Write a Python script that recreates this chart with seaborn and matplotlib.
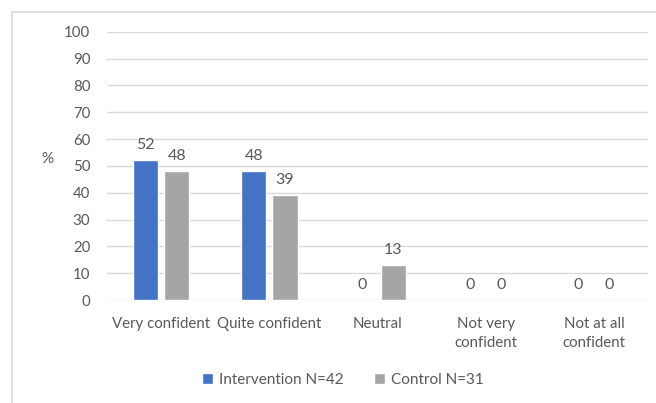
import pandas as pd
import matplotlib.pyplot as plt
import seaborn as sns
from matplotlib.patches import Rectangle

categories = ['Very confident', 'Quite confident', 'Neutral', 'Not very\nconfident', 'Not at all\nconfident']
intervention = [52, 48, 0, 0, 0]
control = [48, 39, 13, 0, 0]
groups = ['Intervention N=42', 'Control N=31']
colors = ['#4472C4', '#A5A5A5']
yticks = [0, 10, 20, 30, 40, 50, 60, 70, 80, 90, 100]

df = pd.DataFrame({
    'Category': categories * 2,
    'Value': intervention + control,
    'Group': [groups[0]] * len(categories) + [groups[1]] * len(categories),
})

sns.set_style('white')
plt.rcParams['font.family'] = ['Lato', 'DejaVu Sans']
text_col = '#595959'

fig = plt.figure(figsize=(6.56, 4.03), dpi=100)
ax = fig.add_axes([107 / 656, 1 - 300 / 403, 541 / 656, 268.3 / 403])

sns.barplot(data=df, x='Category', y='Value', hue='Group', palette=colors,
            width=0.58, gap=0.2, ax=ax, legend=True, saturation=1)

for c in ax.containers:
    ax.bar_label(c, fmt='%g', padding=6, fontsize=11.5, color=text_col)

ax.set_ylim(0, 100)
ax.set_yticks(yticks)
ax.set_xlim(-0.5, len(categories) - 0.5)
ax.yaxis.grid(True, color='#D9D9D9', linewidth=1)
ax.set_axisbelow(True)
for s in ax.spines.values():
    s.set_visible(False)
ax.tick_params(axis='both', length=0, labelsize=10.8, labelcolor=text_col)
ax.tick_params(axis='y', pad=12)
ax.tick_params(axis='x', pad=12)
for lbl in ax.get_xticklabels():
    lbl.set_linespacing(1.45)
ax.set_xlabel('')
ax.set_ylabel('%', rotation=0, fontsize=11, color=text_col, labelpad=20)
ax.yaxis.set_label_coords(-0.11, 0.5)

ax.legend(loc='center', bbox_to_anchor=(343 / 656, 1 - 380 / 403), bbox_transform=fig.transFigure,
          ncol=2, frameon=False, fontsize=11, handlelength=0.7, handleheight=0.7,
          handletextpad=0.4, columnspacing=2.0, labelcolor=text_col)

fig.patches.append(Rectangle((12 / 656, -0.1), 1.0, 1.1 - 12 / 403, transform=fig.transFigure,
                             fill=False, edgecolor='#D9D9D9', linewidth=1.2))

fig.savefig('out.png', dpi=100)
